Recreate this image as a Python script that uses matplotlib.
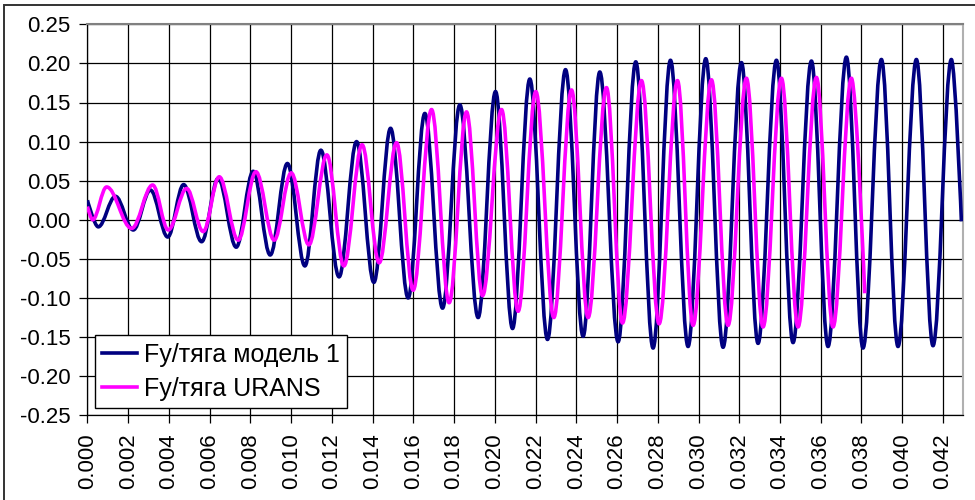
import numpy as np
import matplotlib.pyplot as plt
from matplotlib.path import Path
from matplotlib.patches import PathPatch, Rectangle
from matplotlib.lines import Line2D
from matplotlib.ticker import MultipleLocator, FormatStrFormatter

plt.rcParams['font.family'] = ['Liberation Sans', 'DejaVu Sans']

# extrema (and end points): time [s], Fy/thrust [-]
t_model = [0.0, 0.000530, 0.001374, 0.002248, 0.003092, 0.003941, 0.004721, 0.005605,
           0.006420, 0.007303, 0.008137, 0.008972, 0.009816, 0.010675, 0.011460, 0.012353,
           0.013212, 0.014061, 0.014881, 0.015745, 0.016564, 0.017433, 0.018282, 0.019180,
           0.020034, 0.020869, 0.021718, 0.022586, 0.023470, 0.024334, 0.025153, 0.026052,
           0.026920, 0.027769, 0.028624, 0.029487, 0.030356, 0.031205, 0.032108, 0.032923,
           0.033826, 0.034641, 0.035544, 0.036358, 0.037261, 0.038076, 0.038979, 0.039794,
           0.040697, 0.041512, 0.042415, 0.042906]
fy_model = [0.025, -0.009, 0.030, -0.013, 0.038, -0.022, 0.045, -0.028,
            0.053, -0.035, 0.062, -0.045, 0.072, -0.059, 0.089, -0.073,
            0.100, -0.080, 0.117, -0.100, 0.136, -0.113, 0.147, -0.125,
            0.164, -0.139, 0.180, -0.153, 0.192, -0.149, 0.189, -0.156,
            0.202, -0.164, 0.204, -0.162, 0.206, -0.163, 0.201, -0.158,
            0.204, -0.157, 0.203, -0.162, 0.208, -0.164, 0.205, -0.162,
            0.205, -0.161, 0.205, -0.002]

t_urans = [0.0, 0.000255, 0.000942, 0.002169, 0.003200, 0.003966, 0.004869, 0.005683,
           0.006469, 0.007401, 0.008270, 0.009168, 0.010003, 0.010871, 0.011755, 0.012589,
           0.013482, 0.014322, 0.015175, 0.015990, 0.016893, 0.017757, 0.018611, 0.019396,
           0.020329, 0.021144, 0.022012, 0.022896, 0.023765, 0.024579, 0.025482, 0.026268,
           0.027200, 0.028064, 0.028967, 0.029733, 0.030636, 0.031450, 0.032353, 0.033168,
           0.034071, 0.034886, 0.035789, 0.036604, 0.037507, 0.038159]
fy_urans = [0.017, 0.000, 0.042, -0.011, 0.0445, -0.013, 0.040, -0.015,
            0.055, -0.026, 0.0615, -0.026, 0.060, -0.032, 0.083, -0.059,
            0.096, -0.055, 0.0986, -0.090, 0.141, -0.106, 0.138, -0.097,
            0.141, -0.117, 0.164, -0.125, 0.166, -0.125, 0.169, -0.132,
            0.178, -0.133, 0.178, -0.135, 0.179, -0.135, 0.181, -0.137,
            0.181, -0.137, 0.182, -0.137, 0.181, -0.094]

labels = ["Fy/тяга модель 1", "Fy/тяга URANS"]
colors = ["#000080", "#FF00FF"]
LW = 2.6


def smooth_path(t, v, a=0.36):
    # Excel-like smoothed line: cubic segments, flat tangent at each extremum
    verts = [(t[0], v[0])]
    codes = [Path.MOVETO]
    n = len(t)
    for i in range(n - 1):
        dx = t[i + 1] - t[i]
        k0 = 0.0 if i == 0 else a
        k1 = 0.0 if i == n - 2 else a
        verts += [(t[i] + k0 * dx, v[i]), (t[i + 1] - k1 * dx, v[i + 1]), (t[i + 1], v[i + 1])]
        codes += [Path.CURVE4] * 3
    return Path(verts, codes)


fig = plt.figure(figsize=(9.75, 5), dpi=100)
ax = fig.add_axes([0.0897, 0.1694, 0.8983, 0.782])

for t, v, c in [(t_model, fy_model, colors[0]), (t_urans, fy_urans, colors[1])]:
    ax.add_patch(PathPatch(smooth_path(t, v), facecolor="none", edgecolor=c, lw=LW,
                           joinstyle="round", capstyle="butt", zorder=3))

ax.set_xlim(0, 0.043)
ax.set_ylim(-0.25, 0.25)
ax.xaxis.set_major_locator(MultipleLocator(0.002))
ax.yaxis.set_major_locator(MultipleLocator(0.05))
ax.xaxis.set_major_formatter(FormatStrFormatter("%.3f"))
ax.yaxis.set_major_formatter(FormatStrFormatter("%.2f"))
ax.grid(True, color="black", lw=0.9, zorder=1)
ax.tick_params(axis="both", direction="out", length=6, width=0.9, labelsize=16, color="black")
ax.tick_params(axis="y", pad=6)
ax.tick_params(axis="x", pad=7, labelrotation=90)

for s in ["left", "bottom"]:
    ax.spines[s].set_color("black")
    ax.spines[s].set_linewidth(0.9)
ax.spines["top"].set_color("#808080")
ax.spines["right"].set_color("#b0b0b0")
ax.spines["top"].set_linewidth(1.5)
ax.spines["right"].set_linewidth(1.5)

handles = [Line2D([], [], color=c, lw=LW) for c in colors]
leg = ax.legend(handles, labels, loc="lower left", bbox_to_anchor=(0.0086, 0.018),
                borderaxespad=0, prop={"size": 18}, frameon=True, fancybox=False,
                handlelength=1.4, handletextpad=0.25, borderpad=0.3, labelspacing=0.4)
leg.get_frame().set_edgecolor("black")
leg.get_frame().set_linewidth(1.0)
leg.get_frame().set_alpha(1)
leg.set_zorder(5)

# chart area border (cut at right and bottom as in the source)
fig.add_artist(Rectangle((4 / 975, -0.5), 2, 1.5 - 5 / 500, transform=fig.transFigure,
                         fill=False, ec="#333333", lw=1.4))

fig.savefig("out.png", dpi=100)
